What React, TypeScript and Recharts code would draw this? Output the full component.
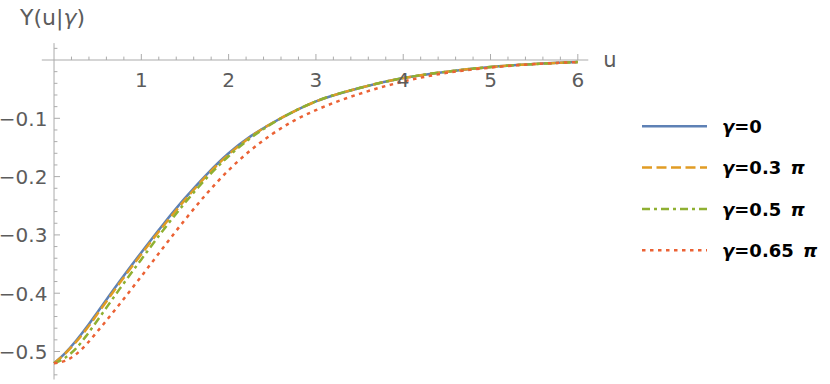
import React from 'react';
import { LineChart, Line, XAxis, YAxis, ReferenceLine, ReferenceDot } from 'recharts';

// ---- data ----
const uValues = [0, 0.125, 0.25, 0.375, 0.5, 0.75, 1, 1.25, 1.5, 1.75, 2, 2.25, 2.5, 2.75, 3, 3.5, 4, 4.5, 5, 5.5, 6];
const gamma0 = [-0.52, -0.503, -0.482, -0.458, -0.432, -0.38, -0.33, -0.282, -0.237, -0.196, -0.16, -0.131, -0.108, -0.088, -0.071, -0.048, -0.031, -0.02, -0.012, -0.007, -0.0035];
const gamma03 = [-0.52, -0.504, -0.484, -0.461, -0.435, -0.383, -0.333, -0.285, -0.24, -0.198, -0.162, -0.132, -0.108, -0.088, -0.071, -0.048, -0.031, -0.02, -0.012, -0.007, -0.0035];
const gamma05 = [-0.52, -0.511, -0.495, -0.472, -0.446, -0.393, -0.342, -0.292, -0.245, -0.202, -0.165, -0.134, -0.109, -0.088, -0.071, -0.048, -0.031, -0.02, -0.012, -0.007, -0.0035];
const gamma065 = [-0.52, -0.516, -0.505, -0.487, -0.465, -0.419, -0.371, -0.322, -0.274, -0.229, -0.189, -0.155, -0.127, -0.104, -0.086, -0.058, -0.037, -0.022, -0.013, -0.007, -0.0035];

const seriesKeys = ['g0', 'g03', 'g05', 'g065'];
const seriesValues = [gamma0, gamma03, gamma05, gamma065];
const seriesNames = ['γ=0', 'γ=0.3 π', 'γ=0.5 π', 'γ=0.65 π'];
const seriesColors = ['#5E81B5', '#E19C24', '#8FB032', '#EB6235'];
const seriesDash = [undefined, '10 4.5', '8 4 3 4', '3.5 4.5'];

const xTicks = [1, 2, 3, 4, 5, 6];
const xTickLabels = ['1', '2', '3', '4', '5', '6'];
const yTicks = [-0.1, -0.2, -0.3, -0.4, -0.5];
const yTickLabels = ['−0.1', '−0.2', '−0.3', '−0.4', '−0.5'];
const xAxisLabel = 'u';

const data = uValues.map((u, i) => {
  const row: Record<string, number> = { u };
  seriesKeys.forEach((k, s) => {
    row[k] = seriesValues[s][i];
  });
  return row;
});

// ---- layout ----
const W = 830;
const H = 384;
const X_DOMAIN: [number, number] = [-0.14, 6.12];
const Y_DOMAIN: [number, number] = [-0.548, 0.029];
const MARGIN = { top: 43.1, right: 241.7, bottom: 4.5, left: 41.8 };
const plotW = W - MARGIN.left - MARGIN.right;
const plotH = H - MARGIN.top - MARGIN.bottom;
const dxPerPx = (X_DOMAIN[1] - X_DOMAIN[0]) / plotW;
const dyPerPx = (Y_DOMAIN[1] - Y_DOMAIN[0]) / plotH;

const AXIS_COLOR = '#ababab';
const LABEL_COLOR = '#5c5c5c';
const FONT = '"DejaVu Sans", sans-serif';

// minor ticks every 0.2 on x, every 0.02 on y
const xMinor: number[] = [];
for (let i = 1; i <= 30; i++) {
  if (i % 5 !== 0) xMinor.push(Math.round(i * 0.2 * 100) / 100);
}
const yMinor: number[] = [];
for (let i = 1; i >= -27; i--) {
  if (i % 5 !== 0) yMinor.push(Math.round(i * 0.02 * 1000) / 1000);
}

export default function App() {
  const majX = 6 * dyPerPx;
  const minX = 3.4 * dyPerPx;
  const majY = 6 * dxPerPx;
  const minY = 3.4 * dxPerPx;
  return (
    <div style={{ position: 'absolute', left: 0, top: 0, width: W, height: H, background: '#fff' }}>
      <LineChart width={W} height={H} data={data} margin={MARGIN}>
        <XAxis dataKey="u" type="number" domain={X_DOMAIN} allowDataOverflow hide />
        <YAxis type="number" domain={Y_DOMAIN} allowDataOverflow hide />

        {/* axes through the origin */}
        <ReferenceLine segment={[{ x: X_DOMAIN[0], y: 0 }, { x: X_DOMAIN[1], y: 0 }]} stroke={AXIS_COLOR} strokeWidth={1} />
        <ReferenceLine segment={[{ x: 0, y: Y_DOMAIN[0] }, { x: 0, y: Y_DOMAIN[1] }]} stroke={AXIS_COLOR} strokeWidth={1} />

        {xTicks.map((t) => (
          <ReferenceLine key={'xM' + t} segment={[{ x: t, y: 0 }, { x: t, y: majX }]} stroke={AXIS_COLOR} strokeWidth={1} />
        ))}
        {xMinor.map((t) => (
          <ReferenceLine key={'xm' + t} segment={[{ x: t, y: 0 }, { x: t, y: minX }]} stroke={AXIS_COLOR} strokeWidth={1} />
        ))}
        {yTicks.map((t) => (
          <ReferenceLine key={'yM' + t} segment={[{ x: 0, y: t }, { x: majY, y: t }]} stroke={AXIS_COLOR} strokeWidth={1} />
        ))}
        {yMinor.map((t) => (
          <ReferenceLine key={'ym' + t} segment={[{ x: 0, y: t }, { x: minY, y: t }]} stroke={AXIS_COLOR} strokeWidth={1} />
        ))}

        {xTicks.map((t, i) => (
          <ReferenceDot
            key={'xl' + t}
            x={t}
            y={0}
            r={0}
            shape={(p: any) => (
              <text x={p.cx} y={p.cy + 27.3} textAnchor="middle" fontSize={20} fontFamily={FONT} fill={LABEL_COLOR}>
                {xTickLabels[i]}
              </text>
            )}
          />
        ))}
        {yTicks.map((t, i) => (
          <ReferenceDot
            key={'yl' + t}
            x={0}
            y={t}
            r={0}
            shape={(p: any) => (
              <text x={p.cx - 6.6} y={p.cy + 7.5} textAnchor="end" fontSize={20} fontFamily={FONT} fill={LABEL_COLOR}>
                {yTickLabels[i]}
              </text>
            )}
          />
        ))}
        <ReferenceDot
          x={X_DOMAIN[1]}
          y={0}
          r={0}
          shape={(p: any) => (
            <text x={p.cx + 15} y={p.cy + 7} textAnchor="start" fontSize={21} fontFamily={FONT} fill={LABEL_COLOR}>
              {xAxisLabel}
            </text>
          )}
        />
        <ReferenceDot
          x={0}
          y={Y_DOMAIN[1]}
          r={0}
          shape={(p: any) => (
            <text x={p.cx - 1.5} y={p.cy - 18.5} textAnchor="middle" fontSize={22} fontFamily={FONT} fill={LABEL_COLOR}>
              Y(u|<tspan fontStyle="italic">γ</tspan>)
            </text>
          )}
        />

        {seriesKeys.map((k, s) => (
          <Line
            key={k}
            dataKey={k}
            name={seriesNames[s]}
            type="monotone"
            stroke={seriesColors[s]}
            strokeWidth={2.5}
            strokeDasharray={seriesDash[s]}
            dot={false}
            activeDot={false}
            isAnimationActive={false}
          />
        ))}
      </LineChart>

      <svg width={W} height={H} style={{ position: 'absolute', left: 0, top: 0, pointerEvents: 'none' }}>
        {seriesNames.map((name, s) => {
          const y = 126.3 + 41.3 * s;
          return (
            <g key={name}>
              <line x1={642} x2={707} y1={y} y2={y} stroke={seriesColors[s]} strokeWidth={2.5} strokeDasharray={seriesDash[s]} />
              <text x={722} y={y + 6.6} fontSize={18} fontWeight="bold" fontFamily={FONT} fill="#000">
                {Array.from(name).map((ch, j) =>
                  ch === 'γ' || ch === 'π' ? (
                    <tspan key={j} fontStyle="italic" dx={ch === 'π' ? 3 : 0}>{ch}</tspan>
                  ) : (
                    <tspan key={j}>{ch}</tspan>
                  )
                )}
              </text>
            </g>
          );
        })}
      </svg>
    </div>
  );
}
